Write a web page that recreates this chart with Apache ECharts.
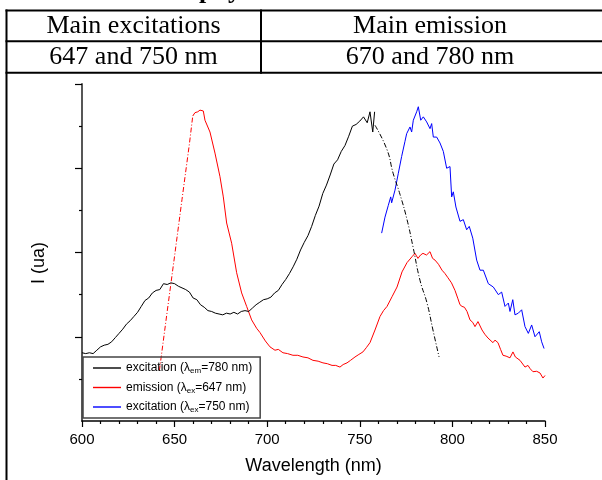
<!DOCTYPE html>
<html>
<head>
<meta charset="utf-8">
<script src="https://cdn.jsdelivr.net/npm/echarts@6/dist/echarts.min.js"></script>
<style>
html,body{margin:0;padding:0;background:#fff;}
#chart{width:602px;height:480px;}
</style>
</head>
<body>
<div id="chart"></div>
<script>
// ---- data (wavelength in nm, intensity in arbitrary units) ----
var xTicks = [600, 650, 700, 750, 800, 850];

var blackWl = [600,602,604,606,608,610,612,614,616,618,620,622,624,626,628,630,632,634,636,638,640,642,644,646,648,650,652,654,656,658,660,662,664,666,668,670,672,674,676,678,680,682,684,686,688,690,692,694,696,698,700,702,704,706,708,710,712,714,716,718,720,722,724,726,728,730,732,734,736,738,740,742,744,746,748,750,752,754,755.5,757,758];
var blackI  = [0.81,0.80,0.81,0.80,0.84,0.88,0.90,0.91,0.94,0.99,1.04,1.09,1.15,1.19,1.24,1.29,1.36,1.43,1.46,1.52,1.55,1.56,1.63,1.62,1.64,1.63,1.60,1.58,1.56,1.53,1.46,1.44,1.38,1.35,1.31,1.30,1.28,1.27,1.26,1.28,1.27,1.29,1.27,1.30,1.31,1.30,1.34,1.38,1.41,1.44,1.45,1.47,1.52,1.55,1.62,1.68,1.75,1.83,1.92,2.03,2.12,2.20,2.31,2.44,2.55,2.70,2.80,2.92,3.05,3.10,3.20,3.27,3.38,3.50,3.52,3.56,3.61,3.54,3.67,3.43,3.67];

var blackFitWl = [758.2,764.7,768,771.7,775.5,778.7,782.5,786.3,789.5,792.8];
var blackFitI  = [3.51,3.22,2.94,2.69,2.39,2.07,1.67,1.40,1.08,0.76];

var redFitWl = [641.8,646,650,654,658,659.8];
var redFitI  = [0.60,1.30,1.96,2.63,3.29,3.62];

var redWl = [659.8,661,662.5,663.7,665.5,666.4,669.1,671.8,674.5,676.3,678.1,680.8,683.5,686.2,688.9,691.6,694.3,696.1,699,701.5,704.2,706,708.5,711,713.9,716.5,719.3,722,724.7,727.5,730.1,732.5,735,737,739.3,741,743.1,745,747.4,749.5,751.7,753.5,755.5,758.2,760.9,762.8,764.7,767.4,770.1,772.8,775.5,778.2,779.8,781.4,782.8,784.1,786,787.9,789.3,790.6,792.5,794.4,796,797.6,799.5,801.4,803,804.1,805.2,806.5,807.9,809.5,811,812.2,813.8,816,817.5,819.2,821.9,823,824.6,826,827.3,829,831.1,832.7,834,836.5,839.2,840.8,842,843.5,845.5,847.3,848.9,850];
var redI  = [3.62,3.66,3.67,3.69,3.68,3.57,3.43,3.18,2.90,2.66,2.35,2.11,1.76,1.52,1.36,1.20,1.10,1.05,0.95,0.88,0.84,0.85,0.81,0.80,0.78,0.78,0.76,0.75,0.72,0.71,0.69,0.68,0.66,0.66,0.64,0.67,0.69,0.72,0.76,0.79,0.82,0.87,0.93,1.08,1.24,1.31,1.36,1.475,1.59,1.77,1.88,1.95,1.99,1.93,1.97,1.99,1.97,2.01,1.93,1.91,1.86,1.79,1.75,1.70,1.64,1.55,1.45,1.38,1.36,1.35,1.30,1.20,1.17,1.12,1.18,1.08,1.03,0.985,0.93,0.96,0.93,0.85,0.78,0.77,0.75,0.82,0.76,0.72,0.64,0.66,0.62,0.585,0.59,0.57,0.51,0.54];

var blueWl = [761.8,763.6,765.4,766.7,767.2,769,770.8,772.6,774.4,775.3,777.1,778,778.9,780.7,781.6,782.9,784.3,786.1,787.9,788.8,789.7,791.5,793.3,795.1,796.9,798.7,799.6,800.5,801.9,804.1,805.9,807.7,809.1,811,813.1,814.9,816.7,819.4,822.1,824.8,826.6,828.4,830.2,831.1,832.6,833.8,835.6,837.4,839.2,841,842.8,844.6,846.9,848.2,849.5];
var blueI  = [2.23,2.42,2.56,2.66,2.59,2.74,2.94,3.14,3.32,3.41,3.49,3.43,3.57,3.67,3.73,3.57,3.61,3.55,3.47,3.53,3.37,3.37,3.30,3.20,3.00,3.02,2.66,2.72,2.54,2.37,2.39,2.27,2.31,2.17,1.91,1.79,1.79,1.63,1.59,1.50,1.53,1.36,1.40,1.30,1.44,1.26,1.28,1.32,1.12,1.04,1.14,1.00,1.06,0.94,0.86];

var seriesNames = ['excitation (λem=780 nm)', 'emission (λex=647 nm)', 'excitation (λex=750 nm)'];
var legendRich = {
  'excitation (λem=780 nm)': '{n|excitation (λ}{s|em}{n|=780 nm)}',
  'emission (λex=647 nm)': '{n|emission (λ}{s|ex}{n|=647 nm)}',
  'excitation (λex=750 nm)': '{n|excitation (λ}{s|ex}{n|=750 nm)}'
};

function zip(a, b) { return a.map(function (v, i) { return [v, b[i]]; }); }

var SANS = "'Liberation Sans', Arial, sans-serif";
var SERIF = "'Liberation Serif', 'Times New Roman', serif";

var chart = echarts.init(document.getElementById('chart'), null, {renderer: 'canvas'});
var option = {
  backgroundColor: '#ffffff',
  animation: false,
  grid: {left: 82, right: 57, top: 84, bottom: 59, containLabel: false},
  legend: {
    data: seriesNames,
    orient: 'vertical',
    left: 83, top: 357,
    padding: [5, 8, 4, 10],
    itemGap: 6.5,
    itemWidth: 28,
    itemHeight: 1.4,
    icon: 'rect',
    borderColor: '#444',
    borderWidth: 1.5,
    backgroundColor: 'transparent',
    selectedMode: false,
    formatter: function (name) { return legendRich[name]; },
    textStyle: {
      color: '#000',
      fontFamily: SANS,
      fontSize: 12,
      rich: {
        n: {fontSize: 12, fontFamily: SANS, color: '#000', lineHeight: 14},
        s: {fontSize: 8, fontFamily: SANS, color: '#000', lineHeight: 7, verticalAlign: 'bottom'}
      }
    }
  },
  xAxis: {
    type: 'value',
    min: 600, max: 850, interval: 50,
    name: 'Wavelength (nm)',
    nameLocation: 'middle',
    nameGap: 36,
    nameTextStyle: {fontFamily: SANS, fontSize: 18, color: '#000'},
    axisLine: {show: true, onZero: false, lineStyle: {color: '#000', width: 1.5}},
    axisTick: {show: true, inside: false, length: 6, lineStyle: {color: '#000', width: 1.2}},
    minorTick: {show: true, splitNumber: 5, length: 3, lineStyle: {color: '#000', width: 1.2}},
    axisLabel: {
      margin: 11,
      fontFamily: SANS, fontSize: 15, color: '#000',
      customValues: xTicks
    },
    splitLine: {show: false}
  },
  yAxis: {
    type: 'value',
    min: 0, max: 4, interval: 1,
    axisLine: {show: true, onZero: false, lineStyle: {color: '#444', width: 1.8}},
    axisTick: {show: true, inside: false, length: 7, lineStyle: {color: '#000', width: 1.2}, customValues: [1, 2, 3, 4]},
    minorTick: {show: true, splitNumber: 2, length: 3, lineStyle: {color: '#000', width: 1.2}},
    axisLabel: {show: false},
    splitLine: {show: false}
  },
  series: [
    {name: seriesNames[0], type: 'line', data: zip(blackWl, blackI), symbol: 'none',
      lineStyle: {color: '#000', width: 1}, itemStyle: {color: '#000'}, z: 3},
    {name: 'blackFit', type: 'line', data: zip(blackFitWl, blackFitI), symbol: 'none', smooth: true,
      lineStyle: {color: '#000', width: 1, type: [5, 2, 1, 2]}, itemStyle: {color: '#000'}, z: 3},
    {name: seriesNames[1], type: 'line', data: zip(redWl, redI), symbol: 'none',
      lineStyle: {color: '#ff0000', width: 1}, itemStyle: {color: '#ff0000'}, z: 2},
    {name: 'redFit', type: 'line', data: zip(redFitWl, redFitI), symbol: 'none',
      lineStyle: {color: '#ff0000', width: 1, type: [5, 2, 1, 2]}, itemStyle: {color: '#ff0000'}, z: 2},
    {name: seriesNames[2], type: 'line', data: zip(blueWl, blueI), symbol: 'none',
      lineStyle: {color: '#0000ff', width: 1}, itemStyle: {color: '#0000ff'}, z: 2}
  ],
  graphic: [
    // table frame
    {type: 'line', shape: {x1: 6.5, y1: 9.5, x2: 6.5, y2: 480}, style: {stroke: '#000', lineWidth: 2}, silent: true},
    {type: 'line', shape: {x1: 5.5, y1: 10.5, x2: 602, y2: 10.5}, style: {stroke: '#000', lineWidth: 2}, silent: true},
    {type: 'line', shape: {x1: 5.5, y1: 41.3, x2: 602, y2: 41.3}, style: {stroke: '#000', lineWidth: 2}, silent: true},
    {type: 'line', shape: {x1: 5.5, y1: 72.8, x2: 602, y2: 72.8}, style: {stroke: '#000', lineWidth: 2}, silent: true},
    {type: 'line', shape: {x1: 261, y1: 9.5, x2: 261, y2: 73.8}, style: {stroke: '#000', lineWidth: 2}, silent: true},
    // clipped caption above the table
    {type: 'text', x: 199, y: -9, silent: true,
      style: {text: 'phy', font: 'bold 26px ' + SERIF, fill: '#000', align: 'left', verticalAlign: 'middle'}},
    // table cells
    {type: 'text', x: 133.5, y: 26, silent: true,
      style: {text: 'Main excitations', font: '26px ' + SERIF, fill: '#000', align: 'center', verticalAlign: 'middle'}},
    {type: 'text', x: 430, y: 26, silent: true,
      style: {text: 'Main emission', font: '26px ' + SERIF, fill: '#000', align: 'center', verticalAlign: 'middle'}},
    {type: 'text', x: 133.5, y: 57.5, silent: true,
      style: {text: '647 and 750 nm', font: '26px ' + SERIF, fill: '#000', align: 'center', verticalAlign: 'middle'}},
    {type: 'text', x: 430, y: 57.5, silent: true,
      style: {text: '670 and 780 nm', font: '26px ' + SERIF, fill: '#000', align: 'center', verticalAlign: 'middle'}},
    // y axis title
    {type: 'text', x: 39, y: 263, rotation: Math.PI / 2, silent: true,
      style: {text: 'I (ua)', font: '18px ' + SANS, fill: '#000', align: 'center', verticalAlign: 'middle'}}
  ]
};
chart.setOption(option);
</script>
</body>
</html>
